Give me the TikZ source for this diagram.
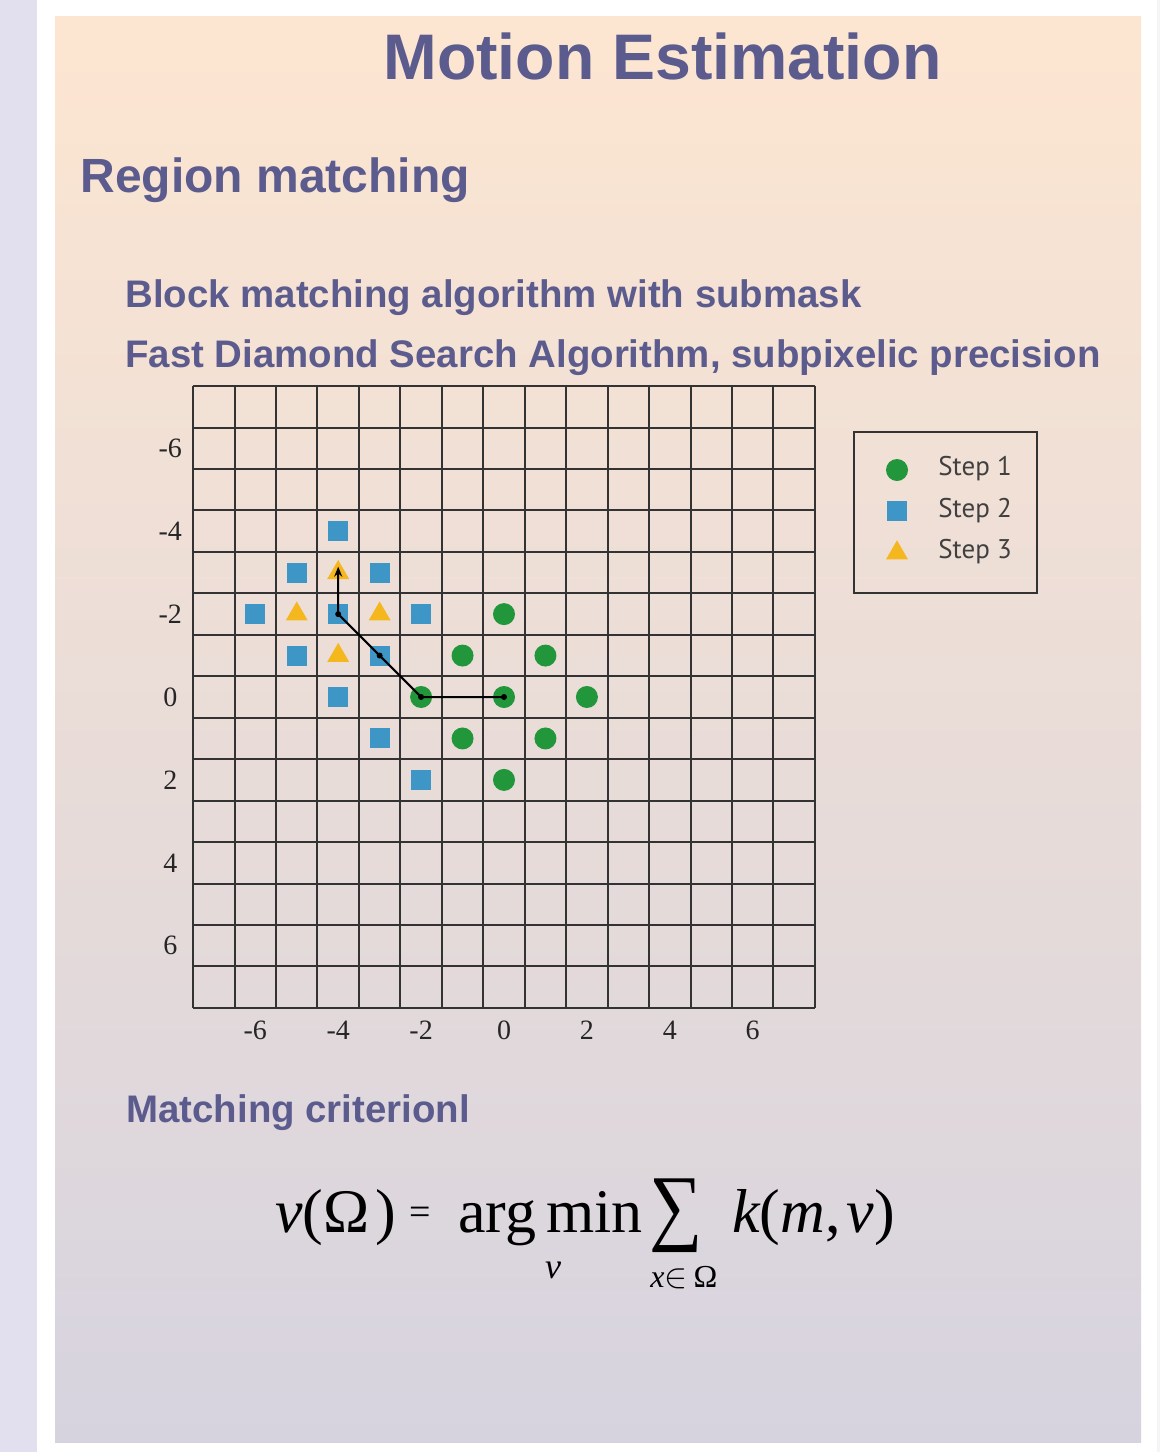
\documentclass[tikz,border=0pt]{standalone}
\usepackage{fontspec}
\setmainfont{Liberation Sans}
\newfontfamily\numfont{Liberation Serif}
\newfontfamily\legfont{PT Sans}
\usetikzlibrary{shapes.geometric, arrows.meta}

\definecolor{slidetext}{HTML}{5B5B8E}
\definecolor{stripcol}{HTML}{E2E0EE}
\definecolor{paneltop}{HTML}{FDE6D1}
\definecolor{panelbot}{HTML}{D6D3DF}
\definecolor{stepgreen}{HTML}{22963A}
\definecolor{stepblue}{HTML}{3E96C6}
\definecolor{stepyellow}{HTML}{F5B71E}

\begin{document}
\begin{tikzpicture}[x=0.5pt, y=-0.5pt,
    heading/.style={anchor=base west, inner sep=0, text=slidetext, font=\bfseries\fontsize{19.2}{23}\selectfont},
    gridline/.style={draw=black!80, line width=1pt},
    ticklabel/.style={inner sep=0, text=black!85, font=\numfont\fontsize{14}{16}\selectfont},
    stepone/.style={circle, fill=stepgreen, minimum size=11pt, inner sep=0},
    steptwo/.style={rectangle, fill=stepblue, minimum size=10pt, inner sep=0},
    stepthree/.style={regular polygon, regular polygon sides=3, fill=stepyellow, minimum size=12.7pt, inner sep=0},
    legtext/.style={anchor=west, inner sep=0, text=black!75, font=\legfont\fontsize{13.5}{16}\selectfont},
    formula/.style={anchor=base west, inner sep=0, font=\numfont\fontsize{31}{36}\selectfont}]
  \useasboundingbox (0,0) rectangle (1160,1452);

  % slide background
  \fill[white] (0,0) rectangle (1160,1452);
  \fill[stripcol] (0,0) rectangle (37,1452);
  \fill[black!4] (1157,0) rectangle (1160,1452);
  \fill[top color=paneltop, bottom color=panelbot] (55,16) rectangle (1141,1442);

  % titles
  \node[heading, font=\bfseries\fontsize{32.2}{38}\selectfont] (title) at (383,79) {Motion Estimation};
  \node[heading, font=\bfseries\fontsize{24}{29}\selectfont] (region) at (80,192) {Region matching};
  \node[heading] (block) at (125,307) {Block matching algorithm with submask};
  \node[heading] (fastds) at (125,367) {Fast Diamond Search Algorithm, subpixelic precision};

  % search grid, one unit per cell
  \begin{scope}[shift={(504,697)}, x=20.725pt, y=-20.725pt]
    \foreach \k in {-7.5,-6.5,...,7.6} {
      \draw[gridline] (\k,-7.5) -- (\k,7.5);
      \draw[gridline] (-7.5,\k) -- (7.5,\k);
    }

    \node[ticklabel] (ym6) at (-8.05,-6) {-6};
    \node[ticklabel] (ym4) at (-8.05,-4) {-4};
    \node[ticklabel] (ym2) at (-8.05,-2) {-2};
    \node[ticklabel] (y0) at (-8.05,0) {0};
    \node[ticklabel] (y2) at (-8.05,2) {2};
    \node[ticklabel] (y4) at (-8.05,4) {4};
    \node[ticklabel] (y6) at (-8.05,6) {6};
    \node[ticklabel] (xm6) at (-6,8.05) {-6};
    \node[ticklabel] (xm4) at (-4,8.05) {-4};
    \node[ticklabel] (xm2) at (-2,8.05) {-2};
    \node[ticklabel] (x0) at (0,8.05) {0};
    \node[ticklabel] (x2) at (2,8.05) {2};
    \node[ticklabel] (x4) at (4,8.05) {4};
    \node[ticklabel] (x6) at (6,8.05) {6};

    % step 1
    \node[stepone] (onec) at (0,0) {};
    \node[stepone] (onen) at (0,-2) {};
    \node[stepone] (ones) at (0,2) {};
    \node[stepone] (onew) at (-2,0) {};
    \node[stepone] (onee) at (2,0) {};
    \node[stepone] (onenw) at (-1,-1) {};
    \node[stepone] (onene) at (1,-1) {};
    \node[stepone] (onesw) at (-1,1) {};
    \node[stepone] (onese) at (1,1) {};

    % step 2
    \node[steptwo] (twoc) at (-4,-2) {};
    \node[steptwo] (twon) at (-4,-4) {};
    \node[steptwo] (twos) at (-4,0) {};
    \node[steptwo] (twow) at (-6,-2) {};
    \node[steptwo] (twoe) at (-2,-2) {};
    \node[steptwo] (twonw) at (-5,-3) {};
    \node[steptwo] (twone) at (-3,-3) {};
    \node[steptwo] (twosw) at (-5,-1) {};
    \node[steptwo] (twose) at (-3,-1) {};
    \node[steptwo] (twolow) at (-3,1) {};
    \node[steptwo] (twobot) at (-2,2) {};

    % step 3
    \node[stepthree] (threen) at (-4,-3) {};
    \node[stepthree] (threes) at (-4,-1) {};
    \node[stepthree] (threew) at (-5,-2) {};
    \node[stepthree] (threee) at (-3,-2) {};

    \draw[line width=1pt, -{Stealth[length=5pt, width=4pt]}] (onec.center) -- (onew.center) -- (twose.center) -- (twoc.center) -- ([yshift=3pt]threen.center);
    \fill (onec) circle (1.5pt);
    \fill (onew) circle (1.5pt);
    \fill (twose) circle (1.5pt);
    \fill (twoc) circle (1.5pt);
  \end{scope}

  % legend
  \node[draw=black!80, line width=1pt, minimum width=91.5pt, minimum height=80.5pt] (legend) at (945.5,512.5) {};
  \node[stepone] (legone) at (897,470) {};
  \node[steptwo] (legtwo) at (897,511) {};
  \node[stepthree] (legthree) at (897,553) {};
  \node[legtext] (legonetext) at (938,469) {Step 1};
  \node[legtext] (legtwotext) at (938,511) {Step 2};
  \node[legtext] (legthreetext) at (938,552) {Step 3};

  % matching criterion
  \node[heading] (criterion) at (126,1122) {Matching criterionl};
  \node[formula] (lhs) at (275,1232) {\itshape v\upshape(Ω\hspace{3pt})};
  \node[inner sep=0, font=\numfont\fontsize{19}{21}\selectfont] (eq) at (420,1216) {=};
  \node[formula] (argmin) at (458,1232) {arg\hspace{5pt}min};
  \node[inner sep=0, font=\numfont\fontsize{34}{40}\selectfont, yscale=1.25, xscale=1.1] (bigsum) at (676,1216) {∑};
  \node[formula] (rhs) at (732,1232) {\itshape k\upshape(\itshape m\upshape,\hspace{3pt}\itshape v\upshape)};
  \node[inner sep=0, font=\numfont\itshape\fontsize{18}{20}\selectfont] (argsub) at (553,1270) {v};
  \node[inner sep=0, font=\numfont\fontsize{16}{20}\selectfont] (sumsub) at (684,1278) {\itshape x\upshape$\in$\hspace{3pt}Ω};
\end{tikzpicture}
\end{document}
